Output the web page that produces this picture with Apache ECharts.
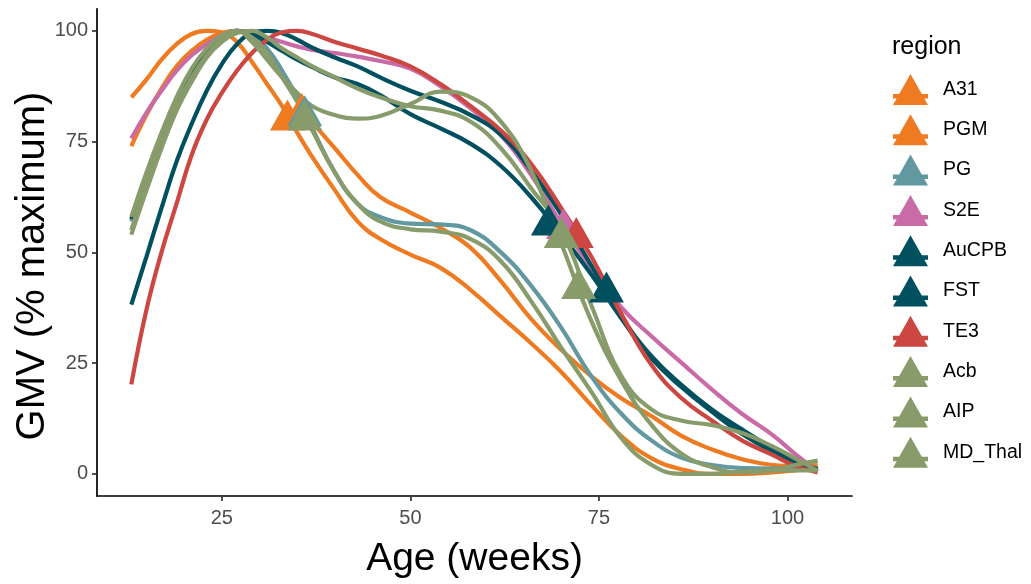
<!DOCTYPE html>
<html>
<head>
<meta charset="utf-8">
<script src="https://cdn.jsdelivr.net/npm/echarts@6/dist/echarts.min.js"></script>
<style>
  html, body { margin: 0; padding: 0; background: #fff; }
  #chart { width: 1031px; height: 584px; }
</style>
</head>
<body>
<div id="chart"></div>
<script>
// ---- data ----
const ages = [13,15,17,19,21,23,25,27,29,31,33,35,37,40,43,46,50,54,58,62,66,70,74,78,82,86,90,94,98,101,104];

const regions = ['A31','PGM','PG','S2E','AuCPB','FST','TE3','Acb','AIP','MD_Thal'];

const A31     = [85,89,93.5,97,99.3,100,99.7,97.5,93,88,83,77,71.5, 64,57,53,49.5,46.5,41.5, 35.5,29.5,23,15.5,8.5,3.5,1,0,0,0.3,0.8,1.5];
const PGM     = [74,81,87,92,95.5,98,99.5,100,98.5,95,90.5,84.5,79.5, 73.5,67.5,62.5,59,55.5,51, 43.5,35,28,22,17,13,8.5,5.5,3.3,2,1.8,2];
const PG      = [57,67,76,84,90.5,95.5,98.5,100,99,96,91,85,78, 68,61,58,56.5,56.3,55, 50,42.5,33,22,13.5,7.5,3.6,2,1.3,1.2,1.2,1.3];
const S2E     = [75.7,81.5,86.5,91,94.5,97,99,100,99.5,98.5,97.5,96.5,95.7, 95,94.2,93.2,91.5,87.5,82.5, 76.5,67.5,56.5,46.5,37.5,31,25,19,13.5,8.8,4.5,0.5];
const AuCPB   = [57.5,67,76,83.5,90,95,98.5,100,99.3,97.5,95.5,93.5,91.8, 89.5,88,85.5,81.2,78,74.5, 69.5,62.5,54,45,35,26,19.5,14,9,5,2.5,1];
const FST     = [38.2,49,60,70.5,79,86.5,92.5,97,99.5,100,99.5,98,96.2, 94,92,89.5,86.5,84,81, 76.5,68.5,58.5,47,35.5,26.5,20,14.5,10,5.8,3,1];
const TE3     = [20.2,37,50,61,72,80,86,91,95,98,99.7,100,99.3, 97.5,96,94.5,92,88,83, 77.5,70,60,49,36,24.5,17,12,7.5,4.3,1.8,0.3];
const Acb     = [55,65.5,75,83,89.5,94.5,98,100,98.5,95,89.5,84,77.5, 68,61,57,55.2,54.7,53, 48,39,28.5,18.5,8,2,0,0,0.5,0.8,0.8,0.8];
const AIP     = [58,68,77,85,91.5,96,99,100,97.5,93.5,89.5,86,83, 81,80.2,80.8,83.5,86.3,85, 79.5,68.5,52,34.5,21,11,4.5,1.5,0.3,0.8,2,3];
const MD_Thal = [54,64,73.5,82,88.5,94,97.5,99.5,100,98.5,96,94,92, 89.5,87,85,83,82,79.5, 73.5,64.5,55,38,22,14.5,12,11,9.2,6.2,3.5,0.7];

// triangle markers [age, value]
const triA31 = [33.7, 81];
const triPGM = [35.6, 82.5];
const triPG = [36, 82];
const triS2E = [70.3, 56.5];
const triAuCPB = [68.3, 57.3];
const triFST = [76, 42.2];
const triTE3 = [72, 54.5];
const triAcb = [36, 81];
const triAIP = [72.3, 43];
const triMD_Thal = [70, 54.5];

const xTicks = [25, 50, 75, 100];
const yTicks = [0, 25, 50, 75, 100];

// ---- styling ----
const colors = {
  A31: '#EE7B22', PGM: '#EE7B22', PG: '#62989F', S2E: '#C96BA6',
  AuCPB: '#00505F', FST: '#00505F', TE3: '#CC4642',
  Acb: '#879B6B', AIP: '#879B6B', MD_Thal: '#879B6B'
};
const values = { A31, PGM, PG, S2E, AuCPB, FST, TE3, Acb, AIP, MD_Thal };
const tris = { A31: triA31, PGM: triPGM, PG: triPG, S2E: triS2E, AuCPB: triAuCPB,
  FST: triFST, TE3: triTE3, Acb: triAcb, AIP: triAIP, MD_Thal: triMD_Thal };

const font = '"Liberation Sans", Arial, Helvetica, sans-serif';

const series = [];
regions.forEach((r, i) => {
  series.push({
    name: r, type: 'line', smooth: 0.45, showSymbol: false, symbol: 'none',
    color: colors[r], z: 2 + i * 0.01,
    lineStyle: { width: 4.2, color: colors[r] },
    data: ages.map((a, k) => [a, values[r][k]])
  });
});
regions.forEach((r, i) => {
  series.push({
    name: r, type: 'scatter', symbol: 'triangle', symbolSize: [35, 31],
    color: colors[r], z: 5 + i * 0.01,
    itemStyle: { color: colors[r], opacity: 1 },
    data: [tris[r]]
  });
});

const chart = echarts.init(document.getElementById('chart'), null, { renderer: 'canvas' });
chart.setOption({
  animation: false,
  backgroundColor: '#fff',
  textStyle: { fontFamily: font },
  title: {
    text: 'region', left: 892, top: 35, padding: 0,
    textStyle: { fontSize: 25, fontWeight: 'normal', color: '#000', fontFamily: font }
  },
  graphic: [{
    type: 'text', x: 33, y: 266, rotation: Math.PI / 2,
    style: {
      text: 'GMV (% maximum)', fill: '#000',
      font: '40px "Liberation Sans", Arial, sans-serif',
      align: 'center', verticalAlign: 'middle'
    }
  }],
  legend: {
    orient: 'vertical', left: 893, top: 74, padding: 0,
    itemWidth: 35, itemHeight: 31, itemGap: 9.3,
    icon: 'path://M17.5,0L35,31L0,31Z M0,20L35,20L35,24.5L0,24.5Z',
    data: regions,
    textStyle: { fontSize: 19.5, color: '#000', fontFamily: font, padding: [0, 0, 0, 10] },
    selectedMode: false
  },
  grid: { left: 97, right: 179, top: 8.75, bottom: 86, containLabel: false },
  xAxis: {
    type: 'value', min: 8.45, max: 108.55,
    name: 'Age (weeks)', nameLocation: 'middle', nameGap: 44,
    nameTextStyle: { fontSize: 39, color: '#000', fontFamily: font },
    axisLine: { show: true, onZero: false, lineStyle: { color: '#000', width: 1.7 } },
    axisTick: { show: true, length: 5, customValues: xTicks, lineStyle: { color: '#333', width: 1.7 } },
    axisLabel: { customValues: xTicks, fontSize: 20, color: '#4D4D4D', margin: 12, fontFamily: font },
    splitLine: { show: false }
  },
  yAxis: {
    type: 'value', min: -5, max: 105,
    axisLine: { show: true, onZero: false, lineStyle: { color: '#000', width: 1.7 } },
    axisTick: { show: true, length: 5, customValues: yTicks, lineStyle: { color: '#333', width: 1.7 } },
    axisLabel: { customValues: yTicks, fontSize: 20, color: '#4D4D4D', margin: 9, fontFamily: font },
    splitLine: { show: false }
  },
  series: series
});
</script>
</body>
</html>
